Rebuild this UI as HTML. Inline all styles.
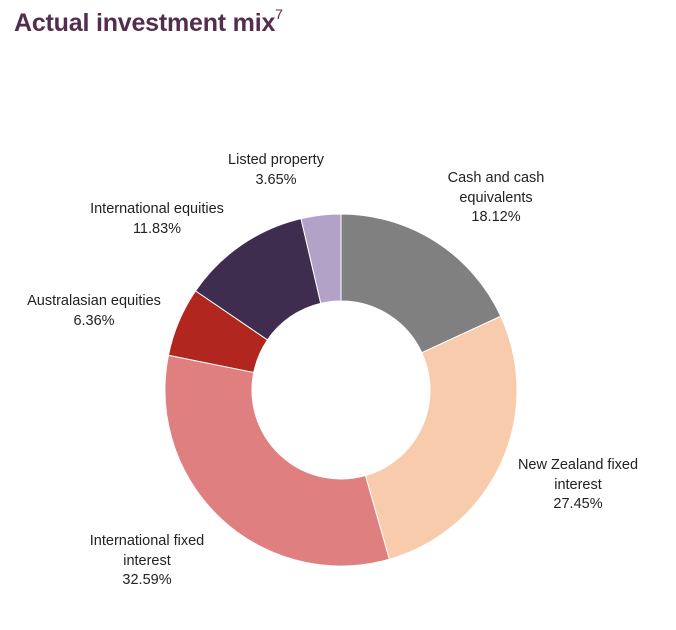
<!DOCTYPE html>
<html><head><meta charset="utf-8"><style>
body{margin:0;background:#fff;width:676px;height:630px;overflow:hidden;font-family:"Liberation Sans",sans-serif}
h1{position:absolute;left:14px;top:9px;margin:0;font-size:25px;font-weight:bold;color:#532e4c;letter-spacing:-0.2px}
h1 sup{font-size:14px;font-weight:normal;vertical-align:top;position:relative;top:-3px}
</style></head><body>
<h1>Actual investment mix<sup>7</sup></h1>
<svg id="s" width="676" height="630" style="position:absolute;left:0;top:0">
<g font-family="Liberation Sans, sans-serif" font-size="14.5" fill="#222" text-anchor="middle">
<text x="276" y="164">Listed property</text><text x="276" y="184">3.65%</text>
<text x="496" y="182">Cash and cash</text><text x="496" y="202">equivalents</text><text x="496" y="221">18.12%</text>
<text x="157" y="213">International equities</text><text x="157" y="233">11.83%</text>
<text x="94" y="305">Australasian equities</text><text x="94" y="325">6.36%</text>
<text x="578" y="469">New Zealand fixed</text><text x="578" y="489">interest</text><text x="578" y="508">27.45%</text>
<text x="147" y="545">International fixed</text><text x="147" y="565">interest</text><text x="147" y="584">32.59%</text>
</g>
</svg>
<script>
var d=[[18.12,"#808080"],[27.45,"#f8cbad"],[32.59,"#e07f80"],[6.36,"#b1261e"],[11.83,"#3f2d4f"],[3.65,"#b3a2c7"]];
var cx=341,cy=390,R=176,r=89,a=0,s=document.getElementById("s"),h="";
function p(rad,ang){return [cx+rad*Math.sin(ang),cy-rad*Math.cos(ang)];}
d.forEach(function(e){var a0=a*Math.PI/50,a1=(a+e[0])*Math.PI/50;a+=e[0];var l=e[0]>50?1:0;
var A=p(R,a0),B=p(R,a1),C=p(r,a1),D=p(r,a0);
h+='<path d="M'+A+' A'+R+' '+R+' 0 '+l+' 1 '+B+' L'+C+' A'+r+' '+r+' 0 '+l+' 0 '+D+'Z" fill="'+e[1]+'" stroke="#fff" stroke-width="1"/>';});
s.insertAdjacentHTML("afterbegin",h);
</script>
</body></html>
